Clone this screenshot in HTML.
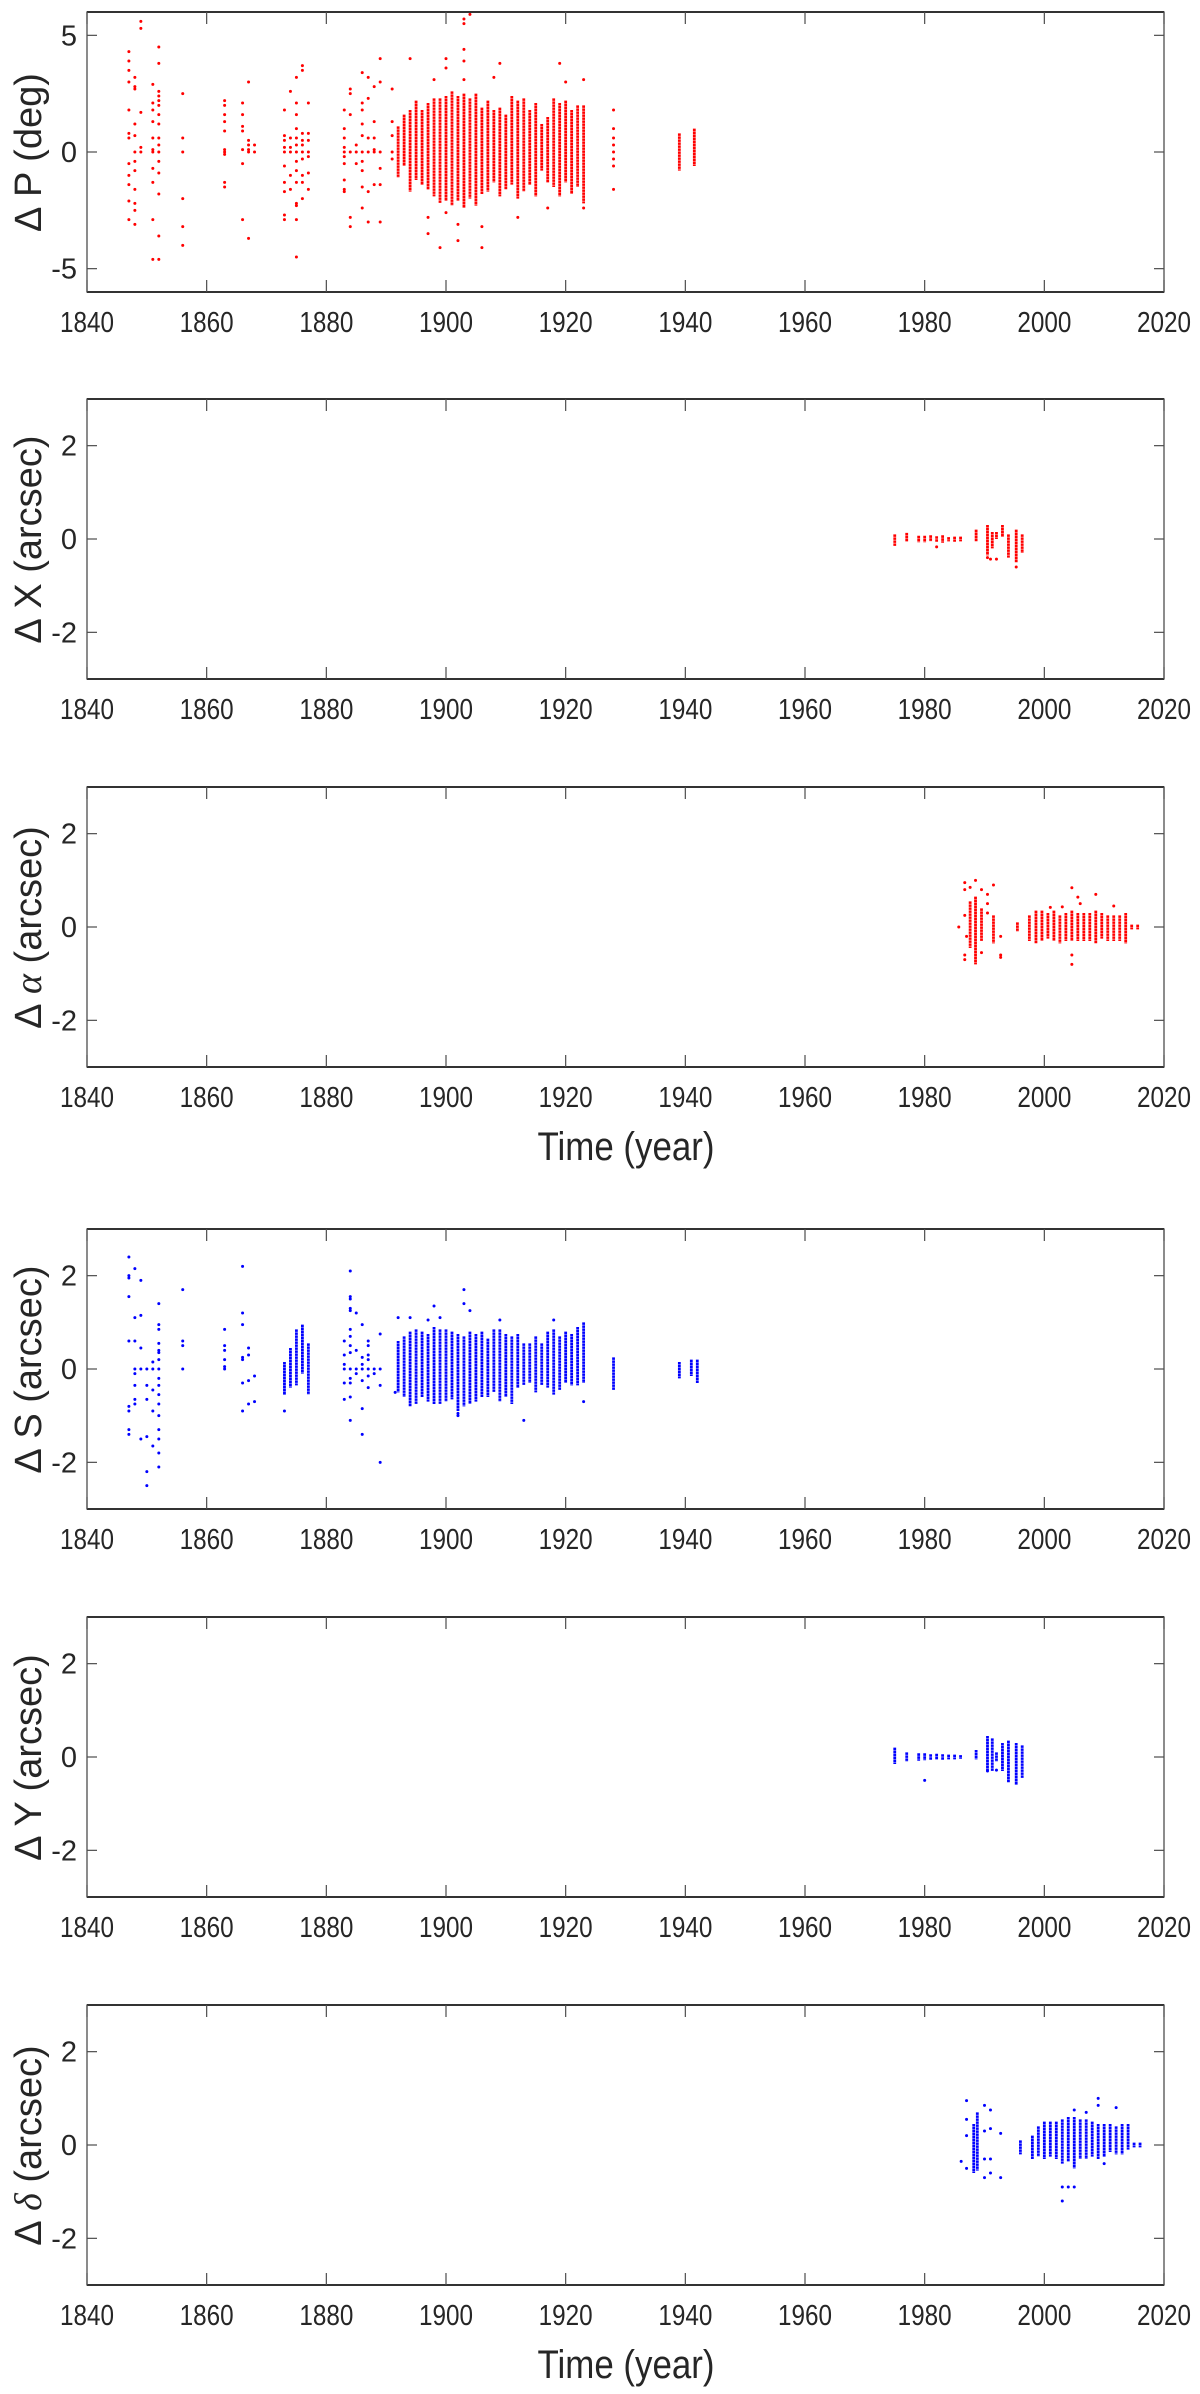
<!DOCTYPE html>
<html><head><meta charset="utf-8"><style>
html,body{margin:0;padding:0;background:#fff;}
svg{display:block;font-family:"Liberation Sans",Arial,sans-serif;}
</style></head><body>
<svg id="fig" width="1200" height="2394" viewBox="0 0 1200 2394" xmlns="http://www.w3.org/2000/svg"></svg>
<script>
// ---------- shared axis ----------
const xTicks = [1840,1860,1880,1900,1920,1940,1960,1980,2000,2020];
const xLabels = ["1840","1860","1880","1900","1920","1940","1960","1980","2000","2020"];

// ---------- Panel 1: ΔP (deg) ----------
const p1SparseYears = [1847,1848,1849,1851,1852,1856,1863,1866,1867,1868,1873,1874,1875,1876,1877,1883,1884,1885,1886,1887,1888,1889,1891,1928];
const p1SparseVals = [
 [4.3,3.9,3.5,3,1.8,0.8,0.6,-0.5,-1,-1.4,-2.1,-2.9],
 [2.8,2.7,3.2,1.2,0.7,0,-0.4,-0.8,-1.6,-2.2,-2.5,-3.1],
 [5.6,5.3,1.7,0.2,0],
 [2.9,2.1,1.8,1.3,0.6,0.1,0,-0.7,-1.3,-2.9,-4.6],
 [4.5,3.8,2.6,2.4,2.2,2.0,1.6,1.2,0.6,0.3,0,-0.4,-0.9,-1.8,-3.6,-4.6],
 [2.5,0.6,0,-2,-3.2,-4],
 [2.2,2,1.6,1.3,0.9,0.1,0,-0.1,-1.3,-1.5],
 [2.1,1.6,1.1,0.9,0.1,-0.5,-2.9],
 [3,0.5,0.3,0.1,0,-3.7],
 [0.3,0],
 [1.8,0.7,0.5,0.2,0,-0.6,-1.3,-1.7,-2.7,-2.9],
 [2.6,0.6,0.2,0,-1,-1.6],
 [3.2,2.1,1.6,1,0.6,0.3,0,-0.4,-0.8,-1.3,-2.2,-2.3,-2.9,-4.5],
 [3.7,3.5,0.8,0.5,0.3,0,-0.3,-1,-1.3,-2],
 [2.1,0.8,0.5,0,-0.2,-0.9,-1.6],
 [1.8,1,0.6,0.2,0,-0.2,-0.5,-1.2,-1.6,-1.7],
 [2.7,2.5,1.6,0,-2.8,-3.2],
 [0.3,0,-0.5],
 [3.4,2.1,1.8,1.2,0.7,0,-0.4,-0.8,-1.5,-2.4],
 [3.2,2.3,0.6,0,-1.7,-3],
 [2.8,1.3,0.6,0.1,0,-1.4],
 [4,3,0,-0.7,-1.4,-3],
 [2.7,1.3,0.7,0,-0.3],
 [1.8,1,0.6,0.3,0,-0.3,-0.6,-1.6]
];
const p1ColYears = [1892,1893,1894,1895,1896,1897,1898,1899,1900,1901,1902,1903,1904,1905,1906,1907,1908,1909,1910,1911,1912,1913,1914,1915,1916,1917,1918,1919,1920,1921,1922,1923,1939,1941.5];
const p1ColHigh = [1.1,1.6,1.8,2.2,1.8,2.1,2.3,2.3,2.4,2.6,2.4,2.5,2.3,2.5,1.9,2.2,1.8,1.9,1.6,2.4,2.2,2.3,1.8,2.1,1.2,1.5,2.3,2.1,2.2,1.8,2.0,2.0,0.8,1.0];
const p1ColLow = [-1.1,-0.6,-1.7,-1.2,-1.4,-1.6,-1.9,-2.2,-2.1,-2.3,-2.1,-2.4,-2.0,-2.3,-1.8,-1.7,-1.3,-1.9,-1.6,-1.4,-2.0,-1.7,-1.4,-1.9,-0.8,-1.3,-1.5,-1.9,-1.3,-1.8,-1.5,-2.2,-0.8,-0.6];
const p1PtYears = [1894,1898,1900,1900,1903,1903,1903,1903,1904,1909,1908,1919,1920,1923,1897,1897,1899,1902,1902,1906,1906,1917,1923,1900,1912,1903];
const p1PtVals  = [4.0,3.1,4.0,3.6,5.5,5.7,4.4,3.9,5.9,3.8,3.2,3.8,3.0,3.1,-2.8,-3.5,-4.1,-3.1,-3.8,-4.1,-3.2,-2.4,-2.4,-2.6,-2.8,3.1];

// ---------- Panel 2: ΔX (arcsec) ----------
const p2ColYears = [1975,1977,1979,1980,1981,1982,1983,1984,1985,1986,1988.6,1990.5,1991.3,1992,1993,1994,1995.3,1996.3];
const p2ColHigh = [0.1,0.13,0.07,0.07,0.08,0.06,0.08,0.04,0.05,0.05,0.2,0.3,0.15,0.15,0.3,0.1,0.2,0.1];
const p2ColLow  = [-0.15,-0.05,-0.07,-0.07,-0.05,-0.06,-0.08,-0.05,-0.06,-0.05,-0.05,-0.35,-0.2,0,0.05,-0.4,-0.5,-0.3];
const p2PtYears = [1982,1990.5,1991,1992,1995.3];
const p2PtVals  = [-0.17,-0.4,-0.43,-0.43,-0.6];

// ---------- Panel 3: Δα (arcsec) ----------
const p3ColYears = [1987.6,1988.5,1989.5,1991.5,1995.5,1997.5,1998.6,1999.6,2000.6,2001.6,2002.6,2003.6,2004.6,2005.6,2006.6,2007.6,2008.6,2009.6,2010.6,2011.6,2012.6,2013.6,2014.6,2015.6];
const p3ColHigh = [0.55,0.65,0.4,0.25,0.1,0.25,0.35,0.35,0.3,0.35,0.25,0.3,0.35,0.3,0.3,0.3,0.35,0.3,0.25,0.25,0.25,0.3,0.05,0.05];
const p3ColLow  = [-0.45,-0.8,-0.3,-0.35,-0.1,-0.3,-0.35,-0.3,-0.25,-0.3,-0.35,-0.3,-0.3,-0.3,-0.3,-0.3,-0.35,-0.25,-0.3,-0.3,-0.3,-0.35,-0.05,-0.05];
const p3PtYears = [1986.7,1986.7,1987.6,1988.5,1989.5,1991.5,1985.7,1986.7,1986.7,1989.5,1992.7,1992.7,1990.5,1990.5,1990.5,2001,2003,2004.6,2005.6,2006,2008.6,2011.6,2004.6,2004.6,1986.7,1987,1992.7];
const p3PtVals  = [0.95,0.8,0.85,1.0,0.8,0.9,0,-0.6,-0.7,-0.55,-0.6,-0.65,0.7,0.5,0.3,0.42,0.43,0.84,0.64,0.5,0.7,0.45,-0.6,-0.8,0.25,-0.2,-0.2];

// ---------- Panel 4: ΔS (arcsec) ----------
const p4SparseYears = [1847,1848,1849,1850,1851,1852,1856,1863,1866,1867,1868,1873,1883,1884,1885,1886,1887,1888,1889,1891.5];
const p4SparseVals = [
 [2.4,2.0,1.95,1.55,0.6,-0.8,-0.9,-1.3,-1.4],
 [2.15,1.1,0.6,0,-0.1,-0.35,-0.65,-0.75],
 [1.9,1.15,0.45,0,-1.5],
 [0,-0.35,-0.65,-1.45,-2.2,-2.5],
 [0.15,0,-0.45,-0.9,-1.65],
 [1.4,0.95,0.85,0.55,0.4,0.35,0.2,0,-0.2,-0.35,-0.55,-0.75,-1.0,-1.3,-1.5,-1.8,-2.1],
 [1.7,0.6,0.5,0],
 [0.85,0.5,0.4,0.2,0.05,0],
 [2.2,1.2,0.95,0.25,0.2,-0.3,-0.9],
 [0.45,0.3,-0.25,-0.75],
 [-0.15,-0.7],
 [-0.9],
 [0.6,0.3,0.1,0,-0.3,-0.65],
 [2.1,1.55,1.5,1.3,1.25,0.85,0.7,0.5,0.35,0,-0.2,-0.3,-0.6,-1.1],
 [1.2,0.4,0,-0.1],
 [0.95,0.25,0.1,0,-0.25,-0.85,-1.4],
 [0.6,0.5,0.3,0.2,0,-0.15,-0.4],
 [0,-0.1],
 [0.75,0,-0.35,-2.0],
 [-0.5]
];
const p4ColYears = [1873,1874,1875,1876,1877,1892,1893,1894,1895,1896,1897,1898,1899,1900,1901,1902,1903,1904,1905,1906,1907,1908,1909,1910,1911,1912,1913,1914,1915,1916,1917,1918,1919,1920,1921,1922,1923,1928,1939,1941,1942];
const p4ColHigh = [0.15,0.45,0.85,0.95,0.55,0.6,0.7,0.8,0.85,0.8,0.75,0.9,0.85,0.85,0.8,0.75,0.7,0.8,0.75,0.8,0.65,0.85,0.85,0.75,0.7,0.75,0.55,0.55,0.7,0.55,0.8,0.85,0.7,0.8,0.75,0.9,1.0,0.25,0.15,0.2,0.2];
const p4ColLow  = [-0.55,-0.4,-0.35,-0.1,-0.55,-0.5,-0.6,-0.8,-0.75,-0.6,-0.7,-0.75,-0.75,-0.7,-0.65,-0.9,-0.8,-0.75,-0.7,-0.6,-0.6,-0.5,-0.7,-0.6,-0.75,-0.4,-0.35,-0.3,-0.5,-0.35,-0.4,-0.55,-0.45,-0.3,-0.35,-0.35,-0.3,-0.45,-0.2,-0.15,-0.3];
const p4PtYears = [1892,1894,1897,1898,1899,1902,1902,1903,1903,1904,1909,1913,1918,1923];
const p4PtVals  = [1.1,1.1,1.05,1.35,1.1,-0.95,-1.0,1.7,1.4,1.25,1.05,-1.1,1.05,-0.7];

// ---------- Panel 5: ΔY (arcsec) ----------
const p5ColYears = [1975,1977,1979,1980,1981,1982,1983,1984,1985,1986,1988.6,1990.5,1991.3,1992,1993,1994,1995.3,1996.3];
const p5ColHigh = [0.2,0.1,0.08,0.08,0.06,0.07,0.06,0.05,0.05,0.04,0.15,0.45,0.4,0.1,0.3,0.35,0.3,0.25];
const p5ColLow  = [-0.15,-0.1,-0.08,-0.07,-0.06,-0.06,-0.06,-0.05,-0.05,-0.04,-0.05,-0.3,-0.3,-0.1,-0.3,-0.55,-0.6,-0.45];
const p5PtYears = [1980,1990.5,1992];
const p5PtVals  = [-0.5,-0.3,-0.28];

// ---------- Panel 6: Δδ (arcsec) ----------
const p6ColYears = [1988.2,1988.8,1996,1998,1999,2000,2001,2002,2003,2004,2005,2006,2007,2008,2009,2010,2011,2012,2013,2014,2015,2016];
const p6ColHigh = [0.45,0.7,0.1,0.2,0.4,0.5,0.5,0.5,0.55,0.6,0.6,0.55,0.55,0.5,0.45,0.45,0.45,0.4,0.45,0.45,0.05,0.05];
const p6ColLow  = [-0.6,-0.55,-0.2,-0.3,-0.25,-0.3,-0.25,-0.3,-0.4,-0.35,-0.5,-0.3,-0.3,-0.25,-0.3,-0.25,-0.15,-0.2,-0.2,-0.1,-0.05,-0.05];
const p6PtYears = [1986.1,1987,1987,1987,1987,1990,1990,1990,1990,1991,1991,1991,1991,1992.7,1992.7,2003,2003,2004,2005,2009,2009,2005,2012,2007,2010];
const p6PtVals  = [-0.35,0.95,0.55,0.2,-0.5,0.85,0.3,-0.3,-0.7,0.75,0.35,-0.3,-0.6,0.25,-0.7,-0.9,-1.2,-0.9,-0.9,1.0,0.85,0.75,0.8,0.7,-0.4];

// ---------- drawing ----------
const NS = "http://www.w3.org/2000/svg";
const svg = document.getElementById('fig');
const X0 = 87, X1 = 1164;
function xScale(yr){ return X0 + (yr - 1840) / 180 * (X1 - X0); }
function mk(tag, attrs, parent){
  const e = document.createElementNS(NS, tag);
  for (const k in attrs) e.setAttribute(k, attrs[k]);
  (parent || svg).appendChild(e);
  return e;
}

const panels = [
  {top:12,  ymin:-6, ymax:6, yt:[-5,0,5], ytl:["-5","0","5"], label:"∆ P  (deg)", greek:null, color:"#ff0000", name:"delta-p", sparseY:p1SparseYears, sparseV:p1SparseVals, colY:p1ColYears, colH:p1ColHigh, colL:p1ColLow, ptY:p1PtYears, ptV:p1PtVals, time:false},
  {top:399, ymin:-3, ymax:3, yt:[-2,0,2], ytl:["-2","0","2"], label:"∆ X  (arcsec)", greek:null, color:"#ff0000", name:"delta-x", sparseY:[], sparseV:[], colY:p2ColYears, colH:p2ColHigh, colL:p2ColLow, ptY:p2PtYears, ptV:p2PtVals, time:false},
  {top:787, ymin:-3, ymax:3, yt:[-2,0,2], ytl:["-2","0","2"], label:"∆", greek:"α", color:"#ff0000", name:"delta-alpha", sparseY:[], sparseV:[], colY:p3ColYears, colH:p3ColHigh, colL:p3ColLow, ptY:p3PtYears, ptV:p3PtVals, time:true},
  {top:1229,ymin:-3, ymax:3, yt:[-2,0,2], ytl:["-2","0","2"], label:"∆ S  (arcsec)", greek:null, color:"#0000ff", name:"delta-s", sparseY:p4SparseYears, sparseV:p4SparseVals, colY:p4ColYears, colH:p4ColHigh, colL:p4ColLow, ptY:p4PtYears, ptV:p4PtVals, time:false},
  {top:1617,ymin:-3, ymax:3, yt:[-2,0,2], ytl:["-2","0","2"], label:"∆ Y  (arcsec)", greek:null, color:"#0000ff", name:"delta-y", sparseY:[], sparseV:[], colY:p5ColYears, colH:p5ColHigh, colL:p5ColLow, ptY:p5PtYears, ptV:p5PtVals, time:false},
  {top:2005,ymin:-3, ymax:3, yt:[-2,0,2], ytl:["-2","0","2"], label:"∆", greek:"δ", color:"#0000ff", name:"delta-delta", sparseY:[], sparseV:[], colY:p6ColYears, colH:p6ColHigh, colL:p6ColLow, ptY:p6PtYears, ptV:p6PtVals, time:true}
];
const H = 280;

panels.forEach(p => {
  const g = mk('g', {});
  
  
  const yScale = v => p.top + (p.ymax - v) / (p.ymax - p.ymin) * H;
  const bot = p.top + H;

  const dg = mk('g', {fill: p.color}, g);
  
  
  p.colY.forEach((yr, i) => {
    const ln = mk('line', {x1: xScale(yr), x2: xScale(yr), y1: yScale(p.colH[i]), y2: yScale(p.colL[i]), stroke: p.color, 'stroke-width': 2.8, 'stroke-dasharray': '2.6 0.4'}, dg);
    
    
  });
  p.sparseY.forEach((yr, i) => {
    p.sparseV[i].forEach(v => {
      const c = mk('circle', {cx: xScale(yr), cy: yScale(v), r: 1.5}, dg);
      
      
    });
  });
  p.ptY.forEach((yr, i) => {
    const c = mk('circle', {cx: xScale(yr), cy: yScale(p.ptV[i]), r: 1.5}, dg);
    
    
  });

  const box = mk('rect', {x: X0, y: p.top, width: X1 - X0, height: H, fill: 'none', stroke: '#4d4d4d', 'stroke-width': 1.3}, g);
  
  
  mk('line', {x1: X0, x2: X1, y1: bot, y2: bot, stroke: '#333', 'stroke-width': 2}, g);
  mk('line', {x1: X0, x2: X1, y1: p.top, y2: p.top, stroke: '#333', 'stroke-width': 2}, g);

  xTicks.forEach((t, i) => {
    const x = xScale(t);
    mk('line', {x1: x, x2: x, y1: bot, y2: bot - 12, stroke: '#4d4d4d', 'stroke-width': 1.2}, g);
    mk('line', {x1: x, x2: x, y1: p.top, y2: p.top + 12, stroke: '#4d4d4d', 'stroke-width': 1.2}, g);
    const tx = mk('text', {x: x, y: bot + 40, 'font-size': 29, 'text-anchor': 'middle', fill: '#262626', textLength: 54, lengthAdjust: 'spacingAndGlyphs'}, g);
    tx.textContent = xLabels[i];
    
    
  });
  p.yt.forEach((t, i) => {
    const y = yScale(t);
    mk('line', {x1: X0, x2: X0 + 10, y1: y, y2: y, stroke: '#4d4d4d', 'stroke-width': 1.2}, g);
    mk('line', {x1: X1, x2: X1 - 10, y1: y, y2: y, stroke: '#4d4d4d', 'stroke-width': 1.2}, g);
    const tx = mk('text', {x: 77, y: y + 10, 'font-size': 29, 'text-anchor': 'end', fill: '#262626'}, g);
    tx.textContent = p.ytl[i];
    
    
  });
  const cy = p.top + H / 2;
  const yl = mk('text', {x: 0, y: 0, 'font-size': 38, 'text-anchor': 'middle', fill: '#262626', transform: `translate(41 ${cy}) rotate(-90)`}, g);
  if (p.greek) {
    yl.appendChild(document.createTextNode('∆ '));
    const ts = mk('tspan', {'font-style': 'italic', 'font-family': '"Liberation Serif", serif'}, yl);
    ts.textContent = p.greek;
    yl.appendChild(document.createTextNode('  (arcsec)'));
  } else {
    yl.textContent = p.label;
  }
  
  

  if (p.time) {
    const tl = mk('text', {x: 626, y: bot + 93, 'font-size': 40, 'text-anchor': 'middle', fill: '#262626', textLength: 177, lengthAdjust: 'spacingAndGlyphs'}, g);
    tl.textContent = 'Time (year)';
    
    
  }
});
</script>
</body></html>
